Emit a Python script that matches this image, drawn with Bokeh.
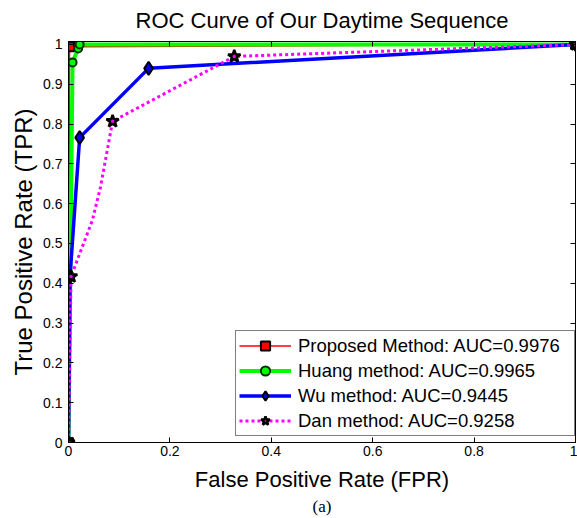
from bokeh.plotting import figure
from bokeh.models import FixedTicker, LinearAxis, Range1d, Legend, LegendItem, Title
from bokeh.embed import file_html
from bokeh.resources import INLINE

# ---- data ----
x_ticks = [0, 0.2, 0.4, 0.6, 0.8, 1.0]
x_tick_labels = ["0", "0.2", "0.4", "0.6", "0.8", "1"]
y_ticks = [0, 0.1, 0.2, 0.3, 0.4, 0.5, 0.6, 0.7, 0.8, 0.9, 1.0]
y_tick_labels = ["0", "0.1", "0.2", "0.3", "0.4", "0.5", "0.6", "0.7", "0.8", "0.9", "1"]

fpr_proposed = [0.0, 0.002, 1.0]
tpr_proposed = [0.0, 0.994, 1.0]

fpr_huang = [0.0, 0.008, 0.019, 0.022, 1.0]
tpr_huang = [0.0, 0.955, 0.99, 1.0, 1.0]

fpr_wu = [0.0, 0.003, 0.022, 0.158, 1.0]
tpr_wu = [0.0, 0.417, 0.766, 0.94, 1.0]

# Dan: operating points (markers) and the drawn curve
fpr_dan = [0.0, 0.005, 0.087, 0.327, 1.0]
tpr_dan = [0.0, 0.417, 0.807, 0.97, 1.0]
fpr_dan_curve = [0.0, 0.005, 0.047, 0.063, 0.087, 0.327, 1.0]
tpr_dan_curve = [0.0, 0.417, 0.558, 0.641, 0.807, 0.97, 1.0]

labels = ["Proposed Method: AUC=0.9976", "Huang method: AUC=0.9965",
          "Wu method: AUC=0.9445", "Dan method: AUC=0.9258"]

FONT = "Liberation Sans"

p = figure(width=577, height=518, output_backend="svg", toolbar_location=None,
           x_range=Range1d(0, 1), y_range=Range1d(0, 1.0075),
           min_border_left=68, min_border_right=2, min_border_top=41, min_border_bottom=76,
           background_fill_color="white", border_fill_color="white")
p.grid.visible = False
p.outline_line_color = "black"
p.outline_line_width = 1

p.title.text = "ROC Curve of Our Daytime Sequence"
p.title.align = "center"
p.title.vertical_align = "top"
p.title.text_font = FONT
p.title.text_font_size = "22px"
p.title.text_line_height = 1.0
p.title.text_font_style = "normal"
p.title.text_color = "black"
p.title.standoff = 14

def style_axis(ax, ticks, labs, show):
    ax.ticker = FixedTicker(ticks=ticks)
    if show:
        ax.major_label_overrides = {t: l for t, l in zip(ticks, labs)}
    else:
        ax.major_label_overrides = {t: "" for t in ticks}
        ax.major_label_standoff = 0
    ax.major_tick_in = 5
    ax.major_tick_out = 0
    ax.minor_tick_in = 0
    ax.minor_tick_out = 0
    ax.axis_line_color = "black"
    ax.major_tick_line_color = "black"
    ax.major_label_text_font = FONT
    ax.major_label_text_color = "black"
    ax.major_label_text_font_size = "14px"

style_axis(p.xaxis[0], x_ticks, x_tick_labels, True)
style_axis(p.yaxis[0], y_ticks, y_tick_labels, True)
p.xaxis[0].major_label_standoff = 3
p.yaxis[0].major_label_standoff = 6
p.xaxis[0].axis_label = "False Positive Rate (FPR)"
p.yaxis[0].axis_label = "True Positive Rate (TPR)"
for ax in (p.xaxis[0], p.yaxis[0]):
    ax.axis_label_text_font = FONT
    ax.axis_label_text_font_style = "normal"
    ax.axis_label_text_color = "black"
p.xaxis[0].axis_label_text_font_size = "22px"
p.yaxis[0].axis_label_text_font_size = "24px"
p.xaxis[0].axis_label_standoff = 8
p.yaxis[0].axis_label_standoff = 3

top_ax = LinearAxis()
style_axis(top_ax, x_ticks, x_tick_labels, False)
p.add_layout(top_ax, "above")
right_ax = LinearAxis()
style_axis(right_ax, y_ticks, y_tick_labels, False)
p.add_layout(right_ax, "right")

p.add_layout(Title(text="(a)", align="center", vertical_align="middle",
                   text_font="Liberation Serif", text_line_height=1.0,
                   text_font_size="17px", text_font_style="normal", text_color="black",
                   standoff=2), "below")

items = []
# Proposed
l1 = p.line(fpr_proposed, tpr_proposed, line_color="#ff0000", line_width=1.5)
m1 = p.scatter(fpr_proposed, tpr_proposed, marker="square", size=9,
               fill_color="#ff0000", line_color="black", line_width=2)
items.append(LegendItem(label=labels[0], renderers=[l1, m1]))
# Huang
l2 = p.line(fpr_huang, tpr_huang, line_color="#00ff00", line_width=4)
m2 = p.scatter(fpr_huang, tpr_huang, marker="circle", size=8,
               fill_color="#00ff00", line_color="#003300", line_width=2)
items.append(LegendItem(label=labels[1], renderers=[l2, m2]))
# Wu
l3 = p.line(fpr_wu, tpr_wu, line_color="#0000ff", line_width=3.5)
m3 = p.scatter(fpr_wu, tpr_wu, marker="diamond", size=13,
               fill_color="#0000ff", line_color="black", line_width=2)
items.append(LegendItem(label=labels[2], renderers=[l3, m3]))
# Dan
l4 = p.line(fpr_dan_curve, tpr_dan_curve, line_color="#ff00ff", line_width=3, line_dash="3 3")
m4 = p.scatter(fpr_dan, tpr_dan, marker="star", size=13,
               fill_color="#ff00ff", line_color="black", line_width=2.5)
items.append(LegendItem(label=labels[3], renderers=[l4, m4]))

legend = Legend(items=items, location=(167, 6))
legend.label_text_font = FONT
legend.label_text_font_size = "18.5px"
legend.label_text_color = "black"
legend.border_line_color = "black"
legend.border_line_width = 1
legend.background_fill_color = "white"
legend.background_fill_alpha = 1
legend.padding = 3
legend.spacing = 2
legend.glyph_width = 52
legend.glyph_height = 23
legend.label_height = 23
legend.label_width = 273
legend.label_standoff = 7
legend.margin = 0
p.add_layout(legend, "center")

open("out.html", "w").write(file_html(p, INLINE))
